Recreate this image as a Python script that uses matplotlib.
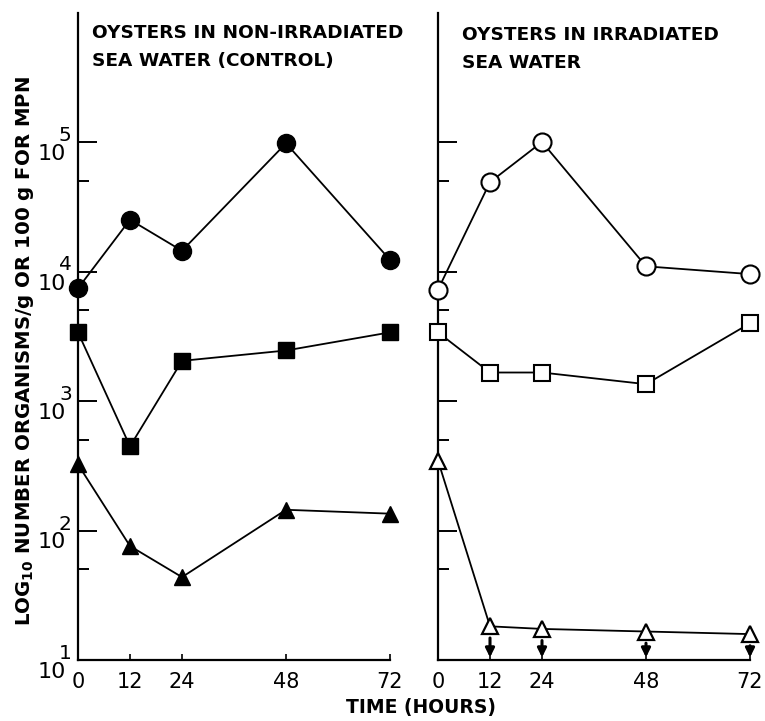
import matplotlib
matplotlib.use("Agg")
import matplotlib.pyplot as plt
import matplotlib.transforms as mtransforms
from matplotlib.ticker import FixedLocator, NullFormatter
import numpy as np

# ---- data (hours, log10 counts) ----
hours = [0, 12, 24, 48, 72]
x_ticks = [0, 12, 24, 48, 72]
x_tick_labels = ["0", "12", "24", "48", "72"]

ctrl_circle = [3.87, 4.40, 4.16, 4.99, 4.09]
ctrl_square = [3.53, 2.65, 3.31, 3.39, 3.53]
ctrl_triangle = [2.51, 1.88, 1.64, 2.16, 2.13]

irr_circle = [3.86, 4.69, 5.00, 4.04, 3.98]
irr_square = [3.53, 3.22, 3.22, 3.13, 3.60]
irr_triangle = [2.54, 1.26, 1.24, 1.22, 1.20]
irr_triangle_below_limit = [False, True, True, True, True]

major_exps = [1, 2, 3, 4, 5]
minor_vals = [50, 500, 5000, 50000]

title_left = "OYSTERS IN NON-IRRADIATED\nSEA WATER (CONTROL)"
title_right = "OYSTERS IN IRRADIATED\nSEA WATER"
xlabel = "TIME (HOURS)"
ylabel = r"LOG$_{\mathbf{10}}$ NUMBER ORGANISMS/g OR 100 g FOR MPN"

W, H = 765, 721
fig = plt.figure(figsize=(W / 100, H / 100), dpi=100)

y_bot_px, y_top_px = 660, 12.5
ax_h = (y_bot_px - y_top_px) / H
ax_b = 1 - y_bot_px / H
axL = fig.add_axes([78 / W, ax_b, 312 / W, ax_h])
axR = fig.add_axes([438 / W, ax_b, 312 / W, ax_h])

def v(lst):
    return 10 ** np.array(lst)

for ax in (axL, axR):
    ax.set_yscale("log")
    ax.set_xlim(0, 72)
    ax.set_ylim(10, 1e6)
    for s in ("top", "right"):
        ax.spines[s].set_visible(False)
    for s in ("left", "bottom"):
        ax.spines[s].set_linewidth(1.6)
    ax.yaxis.set_major_locator(FixedLocator([10.0 ** e for e in major_exps]))
    ax.yaxis.set_minor_locator(FixedLocator(minor_vals))
    ax.yaxis.set_minor_formatter(NullFormatter())
    ax.yaxis.set_major_formatter(NullFormatter())
    ax.tick_params(axis="y", which="major", direction="in", length=14, width=1.4)
    ax.tick_params(axis="y", which="minor", direction="in", length=8, width=1.4)
    ax.set_xticks(x_ticks)
    ax.set_xticklabels(x_tick_labels)
    ax.tick_params(axis="x", direction="in", length=4, width=1.2, pad=9,
                   labelsize=15)
    ax.patch.set_visible(False)

# y tick labels drawn as "10" + large exponent, exponent sitting on the tick
trans = mtransforms.blended_transform_factory(axL.transAxes, axL.transData)
px = 72 / fig.dpi  # points per pixel
for e in major_exps:
    base_off = mtransforms.ScaledTranslation(-12 / fig.dpi, -18 / fig.dpi,
                                             fig.dpi_scale_trans)
    exp_off = mtransforms.ScaledTranslation(-19 / fig.dpi, 1 / fig.dpi,
                                            fig.dpi_scale_trans)
    axL.text(0, 10.0 ** e, "10", transform=trans + base_off, ha="right",
             va="baseline", fontsize=16, clip_on=False)
    axL.text(0, 10.0 ** e, str(e), transform=trans + exp_off, ha="left",
             va="baseline", fontsize=14.5, clip_on=False)

lw = 1.3
kw = dict(color="black", lw=lw, clip_on=False, zorder=3)
axL.plot(hours, v(ctrl_circle), marker="o", ms=13, mfc="black", mec="black", **kw)
axL.plot(hours, v(ctrl_square), marker="s", ms=11.5, mfc="black", mec="black", **kw)
axL.plot(hours, v(ctrl_triangle), marker="^", ms=12, mfc="black", mec="black", **kw)

axR.plot(hours, v(irr_circle), marker="o", ms=13, mfc="white", mec="black", mew=1.5, **kw)
axR.plot(hours, v(irr_square), marker="s", ms=11.5, mfc="white", mec="black", mew=1.5, **kw)
axR.plot(hours, v(irr_triangle), marker="^", ms=11, mfc="white", mec="black", mew=1.6, **kw)

for t, val, flag in zip(hours, irr_triangle, irr_triangle_below_limit):
    if flag:
        axR.annotate("", xy=(t, 10 ** 1.02), xytext=(t, 10 ** (val - 0.09)),
                     arrowprops=dict(arrowstyle="-|>", color="black", lw=2.2,
                                     mutation_scale=13, shrinkA=0, shrinkB=0),
                     annotation_clip=False, zorder=4)

fig.text(92 / W, 1 - 24 / H, title_left, ha="left", va="top", fontsize=13.3,
         fontweight="bold", linespacing=1.75)
fig.text(462 / W, 1 - 26 / H, title_right, ha="left", va="top", fontsize=13.3,
         fontweight="bold", linespacing=1.75)
fig.text(421 / W, 1 - 707 / H, xlabel, ha="center", va="center", fontsize=13.5,
         fontweight="bold")
fig.text(25 / W, 1 - 351 / H, ylabel, ha="center", va="center", rotation=90,
         fontsize=14.2, fontweight="bold")

fig.savefig("out.png", dpi=100)
